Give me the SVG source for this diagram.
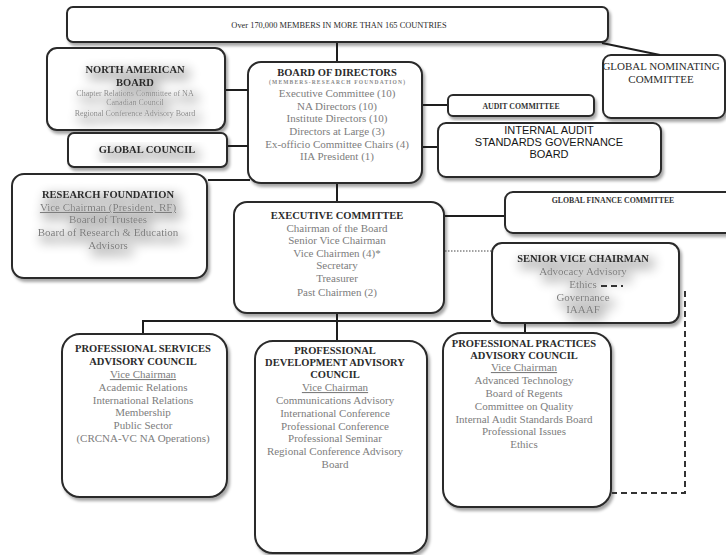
<svg xmlns="http://www.w3.org/2000/svg" width="726" height="555" viewBox="0 0 726 555">
  <defs>
    <filter id="boxShadow" x="-10%" y="-10%" width="125%" height="130%">
      <feDropShadow dx="2" dy="3" stdDeviation="1.6" flood-color="#000" flood-opacity="0.35"/>
    </filter>
    <!-- soft grey glow behind the lettering of some boxes -->
    <filter id="haze" x="-30%" y="-60%" width="170%" height="230%">
      <feMorphology in="SourceAlpha" operator="dilate" radius="2"/>
      <feGaussianBlur stdDeviation="6"/>
      <feOffset dx="4" dy="5"/>
      <feComponentTransfer><feFuncA type="linear" slope="0.3"/></feComponentTransfer>
      <feMerge><feMergeNode/><feMergeNode in="SourceGraphic"/></feMerge>
    </filter>
  </defs>
  <style>
    .box { fill: #fff; stroke: #2a2a2a; stroke-width: 2; filter: url(#boxShadow); }
    .title { font-family: "Liberation Serif", "Times New Roman", serif; font-weight: bold; font-size: 10.5px; fill: #2b2b2b; text-anchor: middle; }
    .body { font-family: "Liberation Serif", "Times New Roman", serif; font-size: 11px; fill: #7d7d7d; text-anchor: middle; }
    .small { font-family: "Liberation Serif", "Times New Roman", serif; font-size: 8px; fill: #8a8a8a; text-anchor: middle; }
    .tiny { font-family: "Liberation Serif", "Times New Roman", serif; font-weight: bold; font-size: 7.8px; fill: #333; text-anchor: middle; }
    .sans { font-family: "Liberation Sans", Arial, sans-serif; font-size: 11px; fill: #151515; text-anchor: middle; }
    .ul { text-decoration: underline; }
    .link { fill: none; stroke: #1e1e1e; stroke-width: 2; }
    .dotted { fill: none; stroke: #444; stroke-width: 1; stroke-dasharray: 1.5 1.5; }
    .dashed { fill: none; stroke: #333; stroke-width: 2; stroke-dasharray: 6 4; }
  </style>

  <g id="members">
    <rect class="box" x="67" y="7" width="541" height="35" rx="6"/>
    <text class="body" x="339" y="28" style="fill:#2b2b2b;font-size:8.4px">Over 170,000 MEMBERS IN MORE THAN 165 COUNTRIES</text>
  </g>

  <g id="north-american-board">
    <rect class="box" x="47" y="48" width="178" height="82" rx="10"/>
    <g filter="url(#haze)">
      <text class="title" x="135" y="73">NORTH AMERICAN</text>
      <text class="title" x="135" y="86">BOARD</text>
      <text class="small" x="135" y="96">Chapter Relations Committee of NA</text>
      <text class="small" x="135" y="105">Canadian Council</text>
      <text class="small" x="135" y="116">Regional Conference Advisory Board</text>
    </g>
  </g>

  <g id="global-council">
    <rect class="box" x="68" y="133" width="159" height="34" rx="6"/>
    <g filter="url(#haze)">
      <text class="title" x="147" y="153">GLOBAL COUNCIL</text>
    </g>
  </g>

  <g id="board-of-directors">
    <rect class="box" x="248" y="62" width="174" height="121" rx="13"/>
    <text class="title" x="337" y="76">BOARD OF DIRECTORS</text>
    <text class="small" x="337" y="84" style="font-size:5.5px;font-weight:bold" textLength="136" lengthAdjust="spacing">(MEMBERS-RESEARCH FOUNDATION)</text>
    <text class="body" x="337" y="97">Executive Committee (10)</text>
    <text class="body" x="337" y="110">NA Directors (10)</text>
    <text class="body" x="337" y="122">Institute Directors (10)</text>
    <text class="body" x="337" y="135">Directors at Large (3)</text>
    <text class="body" x="337" y="148">Ex-officio Committee Chairs (4)</text>
    <text class="body" x="337" y="160">IIA President (1)</text>
  </g>

  <g id="global-nominating-committee">
    <rect class="box" x="603" y="55" width="122" height="63" rx="8"/>
    <text class="body" x="661" y="70" style="fill:#2b2b2b">GLOBAL NOMINATING</text>
    <text class="body" x="661" y="83" style="fill:#2b2b2b">COMMITTEE</text>
  </g>

  <g id="audit-committee">
    <rect class="box" x="448" y="95" width="146" height="21" rx="5"/>
    <text class="tiny" x="521" y="109">AUDIT COMMITTEE</text>
  </g>

  <g id="standards-governance-board">
    <rect class="box" x="438" y="123" width="223" height="54" rx="8"/>
    <text class="sans" x="549" y="134">INTERNAL AUDIT</text>
    <text class="sans" x="549" y="146">STANDARDS GOVERNANCE</text>
    <text class="sans" x="549" y="158">BOARD</text>
  </g>

  <g id="research-foundation">
    <rect class="box" x="12" y="174" width="195" height="104" rx="12"/>
    <g filter="url(#haze)">
      <text class="title" x="108" y="198">RESEARCH FOUNDATION</text>
      <text class="body ul" x="108" y="211">Vice Chairman (President, RF)</text>
      <text class="body" x="108" y="223">Board of Trustees</text>
      <text class="body" x="108" y="236">Board of Research &amp; Education</text>
      <text class="body" x="108" y="249">Advisors</text>
    </g>
  </g>

  <g id="global-finance-committee">
    <rect class="box" x="505" y="192" width="240" height="41" rx="8"/>
    <text class="tiny" x="613" y="203">GLOBAL FINANCE COMMITTEE</text>
  </g>

  <g id="executive-committee">
    <rect class="box" x="234" y="202" width="210" height="111" rx="13"/>
    <text class="title" x="337" y="219">EXECUTIVE COMMITTEE</text>
    <text class="body" x="337" y="232">Chairman of the Board</text>
    <text class="body" x="337" y="244">Senior Vice Chairman</text>
    <text class="body" x="337" y="257">Vice Chairmen (4)*</text>
    <text class="body" x="337" y="269">Secretary</text>
    <text class="body" x="337" y="282">Treasurer</text>
    <text class="body" x="337" y="296">Past Chairmen (2)</text>
  </g>

  <g id="senior-vice-chairman">
    <rect class="box" x="492" y="243" width="187" height="80" rx="10"/>
    <g filter="url(#haze)">
      <text class="title" x="583" y="262">SENIOR VICE CHAIRMAN</text>
      <text class="body" x="583" y="275">Advocacy Advisory</text>
      <text class="body" x="583" y="288">Ethics</text>
      <text class="body" x="583" y="301">Governance</text>
      <text class="body" x="583" y="313">IAAAF</text>
    </g>
  </g>

  <g id="professional-services">
    <rect class="box" x="62" y="334" width="165" height="163" rx="18"/>
    <text class="title" x="143" y="352">PROFESSIONAL SERVICES</text>
    <text class="title" x="143" y="365">ADVISORY COUNCIL</text>
    <text class="body ul" x="143" y="378">Vice Chairman</text>
    <text class="body" x="143" y="391">Academic Relations</text>
    <text class="body" x="143" y="404">International Relations</text>
    <text class="body" x="143" y="416">Membership</text>
    <text class="body" x="143" y="429">Public Sector</text>
    <text class="body" x="143" y="442">(CRCNA-VC NA Operations)</text>
  </g>

  <g id="professional-development">
    <rect class="box" x="255" y="341" width="172" height="212" rx="18"/>
    <text class="title" x="335" y="354">PROFESSIONAL</text>
    <text class="title" x="335" y="366">DEVELOPMENT ADVISORY</text>
    <text class="title" x="335" y="378">COUNCIL</text>
    <text class="body ul" x="335" y="391">Vice Chairman</text>
    <text class="body" x="335" y="404">Communications Advisory</text>
    <text class="body" x="335" y="417">International Conference</text>
    <text class="body" x="335" y="430">Professional Conference</text>
    <text class="body" x="335" y="442">Professional Seminar</text>
    <text class="body" x="335" y="455">Regional Conference Advisory</text>
    <text class="body" x="335" y="468">Board</text>
  </g>

  <g id="professional-practices">
    <rect class="box" x="443" y="333" width="168" height="174" rx="18"/>
    <text class="title" x="524" y="347">PROFESSIONAL PRACTICES</text>
    <text class="title" x="524" y="359">ADVISORY COUNCIL</text>
    <text class="body ul" x="524" y="371">Vice Chairman</text>
    <text class="body" x="524" y="384">Advanced Technology</text>
    <text class="body" x="524" y="397">Board of Regents</text>
    <text class="body" x="524" y="410">Committee on Quality</text>
    <text class="body" x="524" y="423">Internal Audit Standards Board</text>
    <text class="body" x="524" y="435">Professional Issues</text>
    <text class="body" x="524" y="448">Ethics</text>
  </g>

  <!-- connectors, drawn last so they sit on top of box edges -->
  <g id="connectors">
    <line class="link" x1="337" y1="43" x2="337" y2="61"/>
    <line class="link" x1="602" y1="43" x2="660" y2="55"/>
    <line class="link" x1="226" y1="90" x2="248" y2="90"/>
    <line class="link" x1="228" y1="146" x2="248" y2="146"/>
    <line class="link" x1="208" y1="180" x2="250" y2="180"/>
    <line class="link" x1="423" y1="105" x2="447" y2="105"/>
    <line class="link" x1="423" y1="147" x2="437" y2="147"/>
    <line class="link" x1="337" y1="184" x2="337" y2="201"/>
    <line class="link" x1="445" y1="216" x2="504" y2="216"/>
    <line class="dotted" x1="445" y1="251" x2="491" y2="251"/>
    <line class="link" x1="337" y1="314" x2="337" y2="340"/>
    <polyline class="link" points="143,333 143,321 491,321"/>
    <line class="link" x1="525" y1="324" x2="525" y2="332"/>
    <line class="dashed" x1="601" y1="286" x2="623" y2="286"/>
    <polyline class="dashed" points="685,291 685,493 612,493"/>
  </g>
</svg>
